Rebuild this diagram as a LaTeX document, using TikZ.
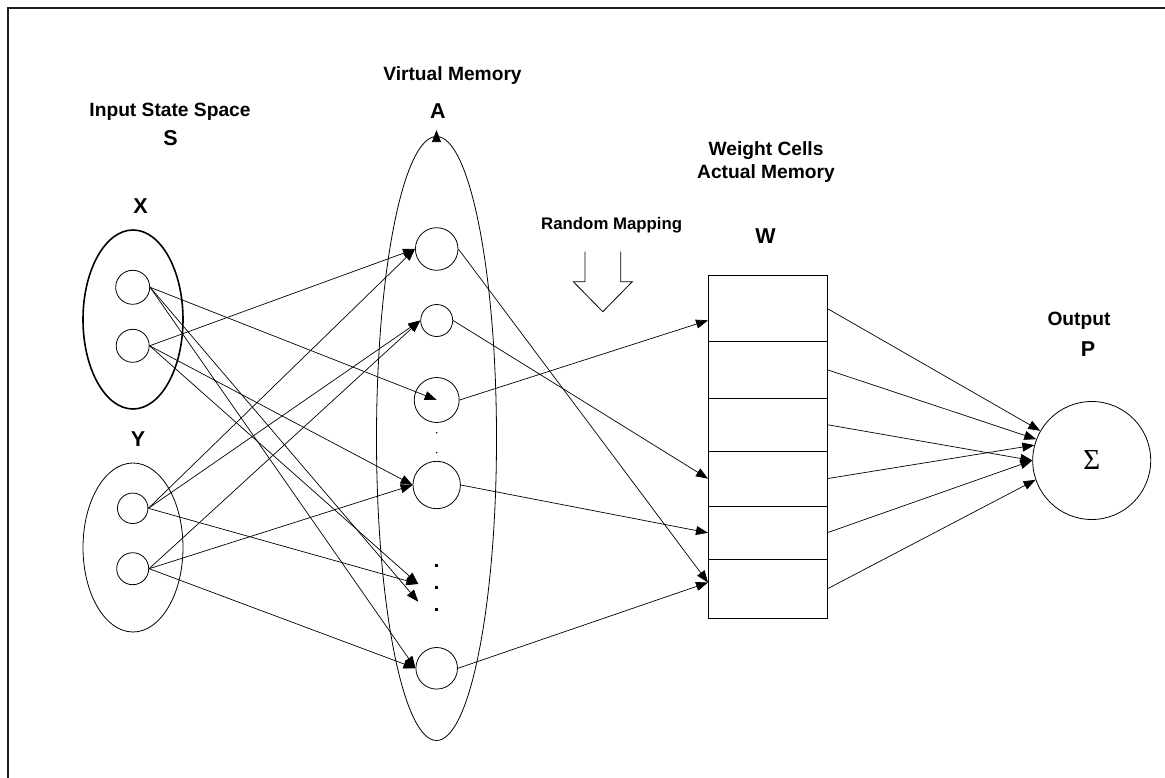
\documentclass[tikz,border=0pt]{standalone}
\usepackage{fontspec}
\setmainfont{Liberation Sans}
\newfontfamily\sumfont{Liberation Serif}
\usetikzlibrary{positioning, calc, shapes.geometric, arrows.meta}
\definecolor{clLine} {RGB}{ 0, 0, 0}
\definecolor{clFrame}{RGB}{30,30,30}
\tikzset{
  %% memory unit (small circle)
  unit/.style={
    circle, draw=clLine, line width=0.8pt, inner sep=0pt
  },
  %% set boundary (ellipse)
  setEll/.style={
    ellipse, draw=clLine, line width=0.8pt, inner sep=0pt
  },
  %% weight cell
  cell/.style={
    rectangle, draw=clLine, line width=0.8pt,
    inner sep=0pt, outer sep=0pt, minimum width=119pt
  },
  %% arrows
  arr/.style={
    -{Triangle[length=12pt, width=9pt]},
    line width=0.7pt, color=clLine
  },
  %% labels
  lbl/.style={
    font=\fontsize{19.2}{23}\selectfont\bfseries,
    align=center, inner sep=0pt
  },
  lblSm/.style={lbl, font=\fontsize{16.8}{20}\selectfont\bfseries},
  letter/.style={font=\fontsize{21.5}{24}\selectfont\bfseries, inner sep=0pt}
}

\begin{document}
\begin{tikzpicture}[x=1pt, y=-1pt]

\useasboundingbox (0,0) rectangle (1165,778);
\clip (0,0) rectangle (1165,778);

%% frame (runs off the right and bottom edges)
\draw[line width=2.2pt, draw=clFrame] (7.8,7.8) rectangle (1185,795);

%% ═══════════════════════════════════════════════════════════════
%%  INPUT STATE SPACE  S
%% ═══════════════════════════════════════════════════════════════

\node[lbl, anchor=base] (inLbl) at (170,117) {Input State Space};
\node[letter, anchor=base] (lblS) at (170.5,145.7) {S};

\node[letter, anchor=base] (lblX) at (140.5,214) {X};
\node[setEll, line width=1.6pt,
  minimum width=100pt, minimum height=179pt] (setX) at (133,319.5) {};
\node[unit, minimum size=34pt] (x1) at (132.7,287.3) {};
\node[unit, minimum size=33pt] (x2) at (132.7,345.8) {};

\node[letter, anchor=base] (lblY) at (138,446.7) {Y};
\node[setEll, minimum width=100pt, minimum height=169pt] (setY) at (133,547.5) {};
\node[unit, minimum size=30.5pt] (y1) at (132.7,508.3) {};
\node[unit, minimum size=32pt] (y2) at (132.7,568.7) {};

%% ═══════════════════════════════════════════════════════════════
%%  VIRTUAL MEMORY  A
%% ═══════════════════════════════════════════════════════════════

\node[lbl, anchor=base] (vmLbl) at (452.5,81) {Virtual Memory};
\node[letter, anchor=base] (lblA) at (438,119) {A};
\node[setEll, minimum width=120pt, minimum height=604pt] (setA) at (436.5,438.5) {};

\node[unit, minimum size=42.6pt] (a1) at (436.7,249) {};
\node[unit, minimum size=32pt]   (a2) at (436.7,320.5) {};
\node[unit, minimum size=45pt]   (a3) at (436.7,400) {};
\node[unit, minimum size=47.4pt] (a4) at (436.7,485) {};
\node[unit, minimum size=41.6pt] (a5) at (436.7,668.3) {};

%% dots between the units
\fill (436.7,432.7) circle (0.8);
\fill (436.7,452.7) circle (0.8);
\fill (435.2,563.5) rectangle ++(3,3);
\fill (435.2,585.8) rectangle ++(3,3);
\fill (435.2,607.8) rectangle ++(3,3);

%% tip on top of A
\draw[arr] ([yshift=-2pt]setA.north) -- ([yshift=6pt]setA.north);

%% free ends in the dotted gap
\coordinate (gap1) at (418.3,584);
\coordinate (gap2) at (418.3,601.7);

%% ═══════════════════════════════════════════════════════════════
%%  ARROWS — S to A
%% ═══════════════════════════════════════════════════════════════

\draw[arr] (x1.east) -- (a3.center);
\draw[arr] (x1.east) -- (gap2);
\draw[arr] (x1.east) -- (a5.west);

\draw[arr] (x2.east) -- (a1.west);
\draw[arr] (x2.east) -- (a4.west);
\draw[arr] (x2.east) -- (gap1);

\draw[arr] (y1.east) -- (a1.west);
\draw[arr] (y1.east) -- (a2.west);
\draw[arr] (y1.east) -- (gap1);

\draw[arr] (y2.east) -- (a2.west);
\draw[arr] (y2.east) -- (a4.west);
\draw[arr] (y2.east) -- (a5.west);

%% ═══════════════════════════════════════════════════════════════
%%  RANDOM MAPPING
%% ═══════════════════════════════════════════════════════════════

\node[lblSm, anchor=base] (rmLbl) at (611.7,229.3) {Random Mapping};
\draw[line width=0.8pt, line join=miter]
  (585,251.7) -- (585,281.7) -- (573.3,281.7) -- (602.8,311.7)
  -- (632.3,281.7) -- (620.7,281.7) -- (620.7,251.7);

%% ═══════════════════════════════════════════════════════════════
%%  WEIGHT CELLS  W
%% ═══════════════════════════════════════════════════════════════

\node[lbl] (wcLbl) at (766,162) {Weight Cells\\Actual Memory};
\node[letter, anchor=base] (lblW) at (765.5,243.3) {W};

\node[cell, minimum height=65.3pt] (w1) at (767.5,308.35) {};
\node[cell, minimum height=57.3pt, below=0pt of w1] (w2) {};
\node[cell, minimum height=52.7pt, below=0pt of w2] (w3) {};
\node[cell, minimum height=55.3pt, below=0pt of w3] (w4) {};
\node[cell, minimum height=53pt,   below=0pt of w4] (w5) {};
\node[cell, minimum height=59.4pt, below=0pt of w5] (w6) {};

\coordinate (w1in) at ($(w1.west)+(0,12)$);
\coordinate (w6in) at ($(w6.west)+(0,-6.5)$);

%% ═══════════════════════════════════════════════════════════════
%%  ARROWS — A to W
%% ═══════════════════════════════════════════════════════════════

\draw[arr] (a3.east) -- (w1in);
\draw[arr] (a2.east) -- (w4.west);
\draw[arr] (a4.east) -- (w5.west);
\draw[arr] (a1.east) -- (w6in);
\draw[arr] (a5.east) -- (w6in);

%% ═══════════════════════════════════════════════════════════════
%%  OUTPUT  P
%% ═══════════════════════════════════════════════════════════════

\node[lbl, anchor=base] (outLbl) at (1079,325) {Output};
\node[letter, anchor=base] (lblP) at (1088,356.7) {P};
\node[unit, minimum size=118pt] (sum) at (1091.7,460.5)
  {\fontsize{29}{29}\sumfont Σ\hspace{9pt}};

%% ═══════════════════════════════════════════════════════════════
%%  ARROWS — W to P
%% ═══════════════════════════════════════════════════════════════

\draw[arr] (w1.east) -- (sum.150);
\draw[arr] (w2.east) -- (sum.159);
\draw[arr] (w3.east) -- (sum.180);
\draw[arr] (w4.east) -- (sum.165);
\draw[arr] (w5.east) -- (sum.180);
\draw[arr] (w6.east) -- (sum.199);

\end{tikzpicture}
\end{document}
